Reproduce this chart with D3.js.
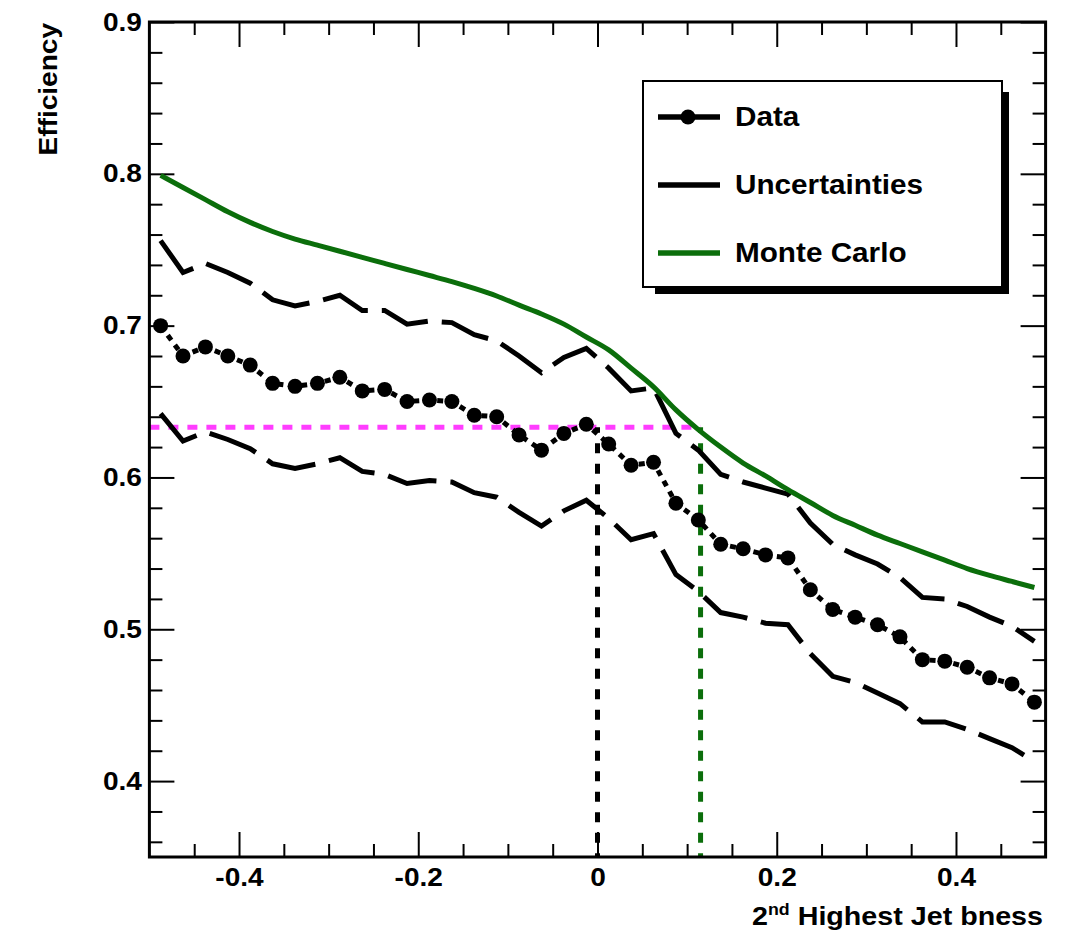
<!DOCTYPE html>
<html>
<head>
<meta charset="utf-8">
<script src="https://cdn.jsdelivr.net/npm/d3@7"></script>
<style>
  html, body { margin: 0; padding: 0; background: #fff; }
  svg { display: block; }
  text { font-family: "Liberation Sans", Arial, Helvetica, sans-serif; font-weight: bold; fill: #000; }
</style>
</head>
<body>
<svg id="chart" width="1074" height="930"></svg>
<script>
// Bin centres of the 2nd-highest-jet b-ness distribution (bin width 0.025)
const binCenters = [
  -0.4875, -0.4625, -0.4375, -0.4125, -0.3875, -0.3625, -0.3375, -0.3125, -0.2875, -0.2625,
  -0.2375, -0.2125, -0.1875, -0.1625, -0.1375, -0.1125, -0.0875, -0.0625, -0.0375, -0.0125,
   0.0125,  0.0375,  0.0625,  0.0875,  0.1125,  0.1375,  0.1625,  0.1875,  0.2125,  0.2375,
   0.2625,  0.2875,  0.3125,  0.3375,  0.3625,  0.3875,  0.4125,  0.4375,  0.4625,  0.4875
];

// Measured efficiency in data
const dataEff = [
  0.700, 0.680, 0.686, 0.680, 0.674, 0.662, 0.660, 0.662, 0.666, 0.657,
  0.658, 0.650, 0.651, 0.650, 0.641, 0.640, 0.628, 0.618, 0.629, 0.635,
  0.622, 0.608, 0.610, 0.583, 0.572, 0.556, 0.553, 0.549, 0.547, 0.526,
  0.513, 0.508, 0.503, 0.495, 0.480, 0.479, 0.475, 0.468, 0.464, 0.452
];

// Upper edge of the uncertainty band
const upperEff = [
  0.756, 0.735, 0.741, 0.735, 0.728, 0.717, 0.713, 0.716, 0.720, 0.710,
  0.710, 0.701, 0.703, 0.702, 0.694, 0.690, 0.680, 0.669, 0.679, 0.685,
  0.672, 0.657, 0.659, 0.629, 0.618, 0.602, 0.597, 0.593, 0.589, 0.570,
  0.556, 0.549, 0.543, 0.534, 0.521, 0.520, 0.515, 0.508, 0.502, 0.492
];

// Lower edge of the uncertainty band
const lowerEff = [
  0.642, 0.624, 0.630, 0.625, 0.619, 0.609, 0.606, 0.609, 0.613, 0.604,
  0.602, 0.596, 0.598, 0.597, 0.590, 0.587, 0.577, 0.568, 0.578, 0.585,
  0.573, 0.559, 0.563, 0.536, 0.525, 0.511, 0.508, 0.504, 0.503, 0.484,
  0.469, 0.465, 0.458, 0.451, 0.439, 0.439, 0.434, 0.428, 0.422, 0.413
];

// Monte Carlo efficiency
const mcEff = [
  0.799, 0.791, 0.783, 0.775, 0.768, 0.762, 0.757, 0.753, 0.749, 0.745,
  0.741, 0.737, 0.733, 0.729, 0.7245, 0.7195, 0.7135, 0.7077, 0.701, 0.6925,
  0.684, 0.672, 0.6597, 0.6445, 0.6315, 0.620, 0.6095, 0.601, 0.592, 0.5835,
  0.575, 0.5685, 0.562, 0.5565, 0.551, 0.5455, 0.540, 0.5355, 0.5315, 0.5275
];

// Working point: data cut at 0 gives this efficiency; MC reaches it at mcCut
const cutEfficiency = 0.633;
const dataCut = 0.0;
const mcCut = 0.115;

// Axis ticks and labels
const xMajorTicks = [-0.4, -0.2, 0, 0.2, 0.4];
const xTickLabels = ["-0.4", "-0.2", "0", "0.2", "0.4"];
const yMajorTicks = [0.4, 0.5, 0.6, 0.7, 0.8, 0.9];
const yTickLabels = ["0.4", "0.5", "0.6", "0.7", "0.8", "0.9"];

const legendLabels = ["Data", "Uncertainties", "Monte Carlo"];

// ---------------------------------------------------------------------------
const W = 1074, H = 930;
const frame = { left: 149.4, right: 1045.6, top: 22, bottom: 857 };
const GREEN = "#0b6e0b";
const MAGENTA = "#ff3dff";
const STRETCH = 1.1;      // horizontal widening of the bold Helvetica-like glyphs
const FS = 25.5;
const LEGEND_FS = 27;

const svg = d3.select("#chart");
svg.append("rect").attr("width", W).attr("height", H).attr("fill", "#fff");

const x = d3.scaleLinear().domain([-0.5, 0.5]).range([frame.left, frame.right]);
const y = d3.scaleLinear().domain([0.35, 0.9]).range([frame.bottom, frame.top]);

// minor tick positions
const xMinorTicks = d3.range(-9, 10).map(k => k * 0.05)
  .filter(v => !xMajorTicks.some(m => Math.abs(m - v) < 1e-9));
const yMinorTicks = d3.range(18, 45).map(k => k * 0.02)
  .filter(v => v > 0.35 && v < 0.9 && !yMajorTicks.some(m => Math.abs(m - v) < 1e-9));

function tickAxis(axisFn, scale, ticks, size, translate) {
  const g = svg.append("g")
    .attr("transform", translate)
    .call(axisFn(scale).tickValues(ticks).tickSize(size).tickFormat(""));
  g.select(".domain").remove();
  g.selectAll(".tick line").attr("stroke", "#000").attr("stroke-width", 2);
  return g;
}

// ticks on all four sides, pointing inwards
tickAxis(d3.axisBottom, x, xMajorTicks, -25, `translate(0,${frame.bottom})`);
tickAxis(d3.axisBottom, x, xMinorTicks, -13, `translate(0,${frame.bottom})`);
tickAxis(d3.axisTop, x, xMajorTicks, -25, `translate(0,${frame.top})`);
tickAxis(d3.axisTop, x, xMinorTicks, -13, `translate(0,${frame.top})`);
tickAxis(d3.axisLeft, y, yMajorTicks, -25, `translate(${frame.left},0)`);
tickAxis(d3.axisLeft, y, yMinorTicks, -13, `translate(${frame.left},0)`);
tickAxis(d3.axisRight, y, yMajorTicks, -25, `translate(${frame.right},0)`);
tickAxis(d3.axisRight, y, yMinorTicks, -13, `translate(${frame.right},0)`);

// tick labels
const xLab = svg.append("g")
  .attr("transform", `translate(0,${frame.bottom})`)
  .call(d3.axisBottom(x).tickValues(xMajorTicks).tickSize(0).tickPadding(11)
    .tickFormat((d, i) => xTickLabels[i]));
xLab.select(".domain").remove();
xLab.selectAll(".tick line").remove();
xLab.selectAll("text")
  .attr("font-size", FS).attr("fill", "#000")
  .attr("font-family", null)
  .attr("transform", `scale(${STRETCH},1)`);

const yLab = svg.append("g")
  .attr("transform", `translate(${frame.left},0)`)
  .call(d3.axisLeft(y).tickValues(yMajorTicks).tickSize(0).tickPadding(7.5)
    .tickFormat((d, i) => yTickLabels[i]));
yLab.select(".domain").remove();
yLab.selectAll(".tick line").remove();
yLab.selectAll("text")
  .attr("font-size", FS).attr("fill", "#000")
  .attr("font-family", null)
  .attr("x", -7.5 / STRETCH)
  .attr("transform", `scale(${STRETCH},1)`);

// axis titles
svg.append("text")
  .attr("transform", `translate(57,23) rotate(-90) scale(${STRETCH},1)`)
  .attr("text-anchor", "end")
  .attr("font-size", FS)
  .text("Efficiency");

const xTitle = svg.append("text")
  .attr("text-anchor", "end")
  .attr("font-size", FS);
xTitle.append("tspan").text("2");
xTitle.append("tspan").attr("font-size", FS * 0.62).attr("dy", -10).text("nd");
xTitle.append("tspan").attr("dy", 10).text(" Highest Jet bness");
{
  const natural = xTitle.node().getComputedTextLength();
  const s = 291 / natural;
  xTitle.attr("transform", `translate(1043,925) scale(${s},1)`);
}

// plotted curves
const pts = arr => binCenters.map((c, i) => [c, arr[i]]);
const line = d3.line().x(d => x(d[0])).y(d => y(d[1]));
const smooth = d3.line().x(d => x(d[0])).y(d => y(d[1])).curve(d3.curveMonotoneX);

const plot = svg.append("g");

// working-point guides
plot.append("path")
  .attr("d", line([[-0.5, cutEfficiency], [mcCut, cutEfficiency]]))
  .attr("fill", "none").attr("stroke", MAGENTA).attr("stroke-width", 5)
  .attr("stroke-dasharray", "10,9");
plot.append("path")
  .attr("d", line([[dataCut, cutEfficiency], [dataCut, 0.35]]))
  .attr("fill", "none").attr("stroke", "#000").attr("stroke-width", 5)
  .attr("stroke-dasharray", "10,10.5").attr("stroke-dashoffset", 25);
plot.append("path")
  .attr("d", line([[mcCut, cutEfficiency], [mcCut, 0.35]]))
  .attr("fill", "none").attr("stroke", GREEN).attr("stroke-width", 5)
  .attr("stroke-dasharray", "10,10.5").attr("stroke-dashoffset", 25);

// uncertainty band edges
[upperEff, lowerEff].forEach(arr => {
  plot.append("path")
    .attr("d", line(pts(arr)))
    .attr("fill", "none").attr("stroke", "#000").attr("stroke-width", 5)
    .attr("stroke-dasharray", "50,14");
});

// Monte Carlo
plot.append("path")
  .attr("d", smooth(pts(mcEff)))
  .attr("fill", "none").attr("stroke", GREEN).attr("stroke-width", 5);

// data
plot.append("path")
  .attr("d", line(pts(dataEff)))
  .attr("fill", "none").attr("stroke", "#000").attr("stroke-width", 5)
  .attr("stroke-dasharray", "6,6");
plot.selectAll("circle.data")
  .data(pts(dataEff))
  .join("circle")
  .attr("class", "data")
  .attr("cx", d => x(d[0])).attr("cy", d => y(d[1]))
  .attr("r", 7.5).attr("fill", "#000");

// frame
svg.append("rect")
  .attr("x", frame.left).attr("y", frame.top)
  .attr("width", frame.right - frame.left).attr("height", frame.bottom - frame.top)
  .attr("fill", "none").attr("stroke", "#000").attr("stroke-width", 3);

// legend
const leg = svg.append("g");
leg.append("rect").attr("x", 655).attr("y", 92).attr("width", 354).attr("height", 202).attr("fill", "#000");
leg.append("rect").attr("x", 643).attr("y", 81).attr("width", 359).attr("height", 206)
  .attr("fill", "#fff").attr("stroke", "#000").attr("stroke-width", 2);

const legendRows = [
  { label: legendLabels[0], color: "#000", marker: true },
  { label: legendLabels[1], color: "#000", marker: false },
  { label: legendLabels[2], color: GREEN, marker: false }
];
legendRows.forEach((r, i) => {
  const cy = 117 + i * 68;
  leg.append("line").attr("x1", 658).attr("x2", 720).attr("y1", cy).attr("y2", cy)
    .attr("stroke", r.color).attr("stroke-width", 5.5);
  if (r.marker) leg.append("circle").attr("cx", 688).attr("cy", cy).attr("r", 7.5).attr("fill", "#000");
  leg.append("text")
    .attr("transform", `translate(735,${cy + 9}) scale(${STRETCH},1)`)
    .attr("font-size", LEGEND_FS)
    .text(r.label);
});
</script>
</body>
</html>
